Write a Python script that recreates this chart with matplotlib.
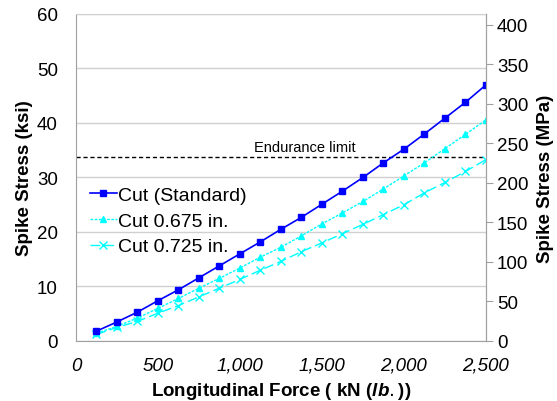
import numpy as np
import matplotlib.pyplot as plt
from matplotlib.ticker import FuncFormatter, MultipleLocator

plt.rcParams['font.family'] = ['Liberation Sans', 'DejaVu Sans']
plt.rcParams['mathtext.fontset'] = 'custom'
plt.rcParams['mathtext.it'] = 'Liberation Sans:italic:bold'

# data (force in kN, stress in ksi)
force = [125, 250, 375, 500, 625, 750, 875, 1000, 1125, 1250,
         1375, 1500, 1625, 1750, 1875, 2000, 2125, 2250, 2375, 2500]
cut_standard = [1.8, 3.5, 5.3, 7.4, 9.4, 11.6, 13.8, 16.0, 18.2, 20.5,
                22.7, 25.1, 27.5, 30.0, 32.7, 35.2, 38.0, 40.9, 43.8, 47.0]
cut_0675 = [1.4, 2.7, 4.2, 6.0, 7.8, 9.7, 11.5, 13.4, 15.4, 17.2,
            19.3, 21.5, 23.5, 25.6, 27.9, 30.3, 32.7, 35.3, 37.9, 40.6]
cut_0725 = [1.2, 2.5, 3.6, 5.1, 6.5, 8.1, 9.7, 11.3, 13.0, 14.6,
            16.4, 18.0, 19.7, 21.4, 23.2, 25.0, 27.2, 29.1, 31.1, 33.3]
endurance = 33.8
ksi_to_mpa = 6.894757

fig = plt.figure(figsize=(5.57, 4.02), dpi=100)
ax = fig.add_axes([0.1364, 0.1493, 0.7361, 0.8134])

ax.plot(force, cut_standard, color='#0000FF', lw=1.2, marker='s', ms=4.5,
        label='Cut (Standard)', zorder=4)
ax.plot(force, cut_0675, color='#00FFFF', lw=1.0, ls=(0, (2, 1)), marker='^', ms=4,
        label='Cut 0.675 in.', zorder=3)
ax.plot(force, cut_0725, color='#00FFFF', lw=1.0, ls=(0, (7, 3)), marker='x', ms=6,
        mew=1.0, label='Cut 0.725 in.', zorder=3)

ax.axhline(endurance, color='black', lw=1.0, ls=(0, (3, 2)), zorder=2)
ax.text(1393, endurance + 0.6, 'Endurance limit', ha='center', va='bottom', fontsize=10.5)

ax.set_xlim(0, 2500)
ax.set_ylim(0, 60)
ax.yaxis.set_major_locator(MultipleLocator(10))
ax.xaxis.set_major_locator(MultipleLocator(500))
ax.xaxis.set_major_formatter(FuncFormatter(lambda v, p: f'{int(v):,}'))
ax.grid(axis='y', color='#D0D0D0', lw=1.0, zorder=0)
ax.set_axisbelow(True)

for s in ['top', 'right', 'bottom', 'left']:
    ax.spines[s].set_color('#A0A0A0')
ax.spines['top'].set_color('#D0D0D0')
ax.tick_params(axis='y', length=0, labelsize=13.5, pad=13)
ax.tick_params(axis='x', length=0, labelsize=13.5, pad=11.5)
for lab in ax.get_xticklabels():
    lab.set_fontstyle('italic')

ax.set_ylabel('Spike Stress (ksi)', fontsize=13.5, fontweight='bold', labelpad=3)
ax.set_xlabel(r'Longitudinal Force ( kN ($\mathit{lb.}$))', fontsize=13.5,
              fontweight='bold', labelpad=4)

ax2 = ax.twinx()
ax2.set_ylim(0, 60 * ksi_to_mpa)
ax2.yaxis.set_major_locator(MultipleLocator(50))
ax2.tick_params(axis='y', length=5, color='#A0A0A0', labelsize=13.5, pad=3)
for s in ['top', 'left', 'bottom']:
    ax2.spines[s].set_visible(False)
ax2.spines['right'].set_color('#A0A0A0')
ax2.set_ylabel('Spike Stress (MPa)', fontsize=13.5, fontweight='bold', labelpad=6)

ax.legend(loc='upper left', bbox_to_anchor=(0.0, 0.515), frameon=False,
          fontsize=14, handlelength=1.4, handletextpad=0.05,
          labelspacing=0.42, borderaxespad=0.3)

fig.savefig('out.png', dpi=100)
